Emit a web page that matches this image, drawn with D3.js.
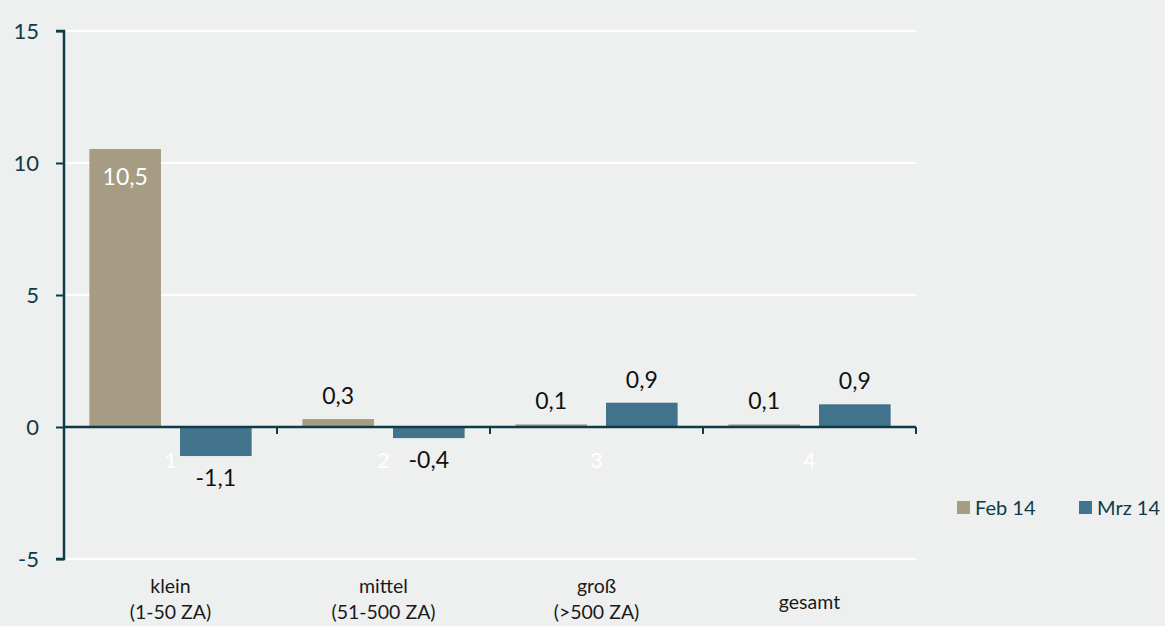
<!DOCTYPE html>
<html><head><meta charset="utf-8">
<script src="https://cdn.jsdelivr.net/npm/d3@7"></script>
<style>html,body{margin:0;padding:0;background:#eef0ef;}svg{display:block;font-family:Lato,"Open Sans",sans-serif;}</style>
</head><body>
<svg id="c" width="1165" height="626"></svg>
<script>
const categories = ["1","2","3","4"];
const categoryLabels = [["klein","(1-50 ZA)"],["mittel","(51-500 ZA)"],["groß","(>500 ZA)"],["gesamt"]];
const seriesNames = ["Feb 14","Mrz 14"];
const feb14 = [10.53, 0.3, 0.1, 0.1];
const mrz14 = [-1.1, -0.42, 0.92, 0.86];
const yTicks = [-5, 0, 5, 10, 15];
const colors = ["#a69c84","#41738c"];

(function(){
const svg = d3.select("#c");
const mL = 64, mR = 916, mT = 31, mB = 559;
const x = d3.scaleBand().domain(categories).range([mL, mR]).paddingInner(0).paddingOuter(0);
const x1 = d3.scaleBand().domain(seriesNames).range([0, x.bandwidth()]).paddingInner(0.21).paddingOuter(0.28);
const y = d3.scaleLinear().domain([-5, 15]).range([mB, mT]);
const axisCol = "#0e3b47";

// gridlines
svg.append("g").selectAll("line").data(yTicks.filter(d => d !== 0)).join("line")
  .attr("x1", mL).attr("x2", mR).attr("y1", d => y(d)).attr("y2", d => y(d))
  .attr("stroke", "#ffffff").attr("stroke-width", 2);

// bars
const series = [feb14, mrz14];
const fmt = v => d3.format(".1f")(v).replace(".", ",").replace("−", "-");
series.forEach((vals, si) => {
  svg.append("g").selectAll("rect").data(vals).join("rect")
    .attr("x", (d, i) => x(categories[i]) + x1(seriesNames[si]))
    .attr("width", x1.bandwidth())
    .attr("y", d => y(Math.max(0, d)))
    .attr("height", d => Math.abs(y(d) - y(0)))
    .attr("fill", colors[si]);
});

// y axis
const yAxis = d3.axisLeft(y).tickValues(yTicks).tickSize(8).tickPadding(17).tickFormat(d => String(d));
const ya = svg.append("g").attr("transform", `translate(${mL},0)`).call(yAxis);
ya.select(".domain").attr("stroke", axisCol).attr("stroke-width", 2.5).attr("d", `M-8,${y(15)}H0V${y(-5)}H-8`);
ya.selectAll(".tick line").attr("stroke", axisCol).attr("stroke-width", 2);
ya.selectAll(".tick text").attr("fill", axisCol).attr("font-size", 22).attr("font-family", "Lato,'Open Sans',sans-serif");

// zero axis with category ticks
const xAxis = d3.axisBottom(x).tickSize(0).tickFormat("");
const xa = svg.append("g").attr("transform", `translate(0,${y(0)})`).call(xAxis);
xa.select(".domain").attr("stroke", axisCol).attr("stroke-width", 2.5).attr("d", `M${mL},0H${mR}`);
xa.selectAll(".tick").remove();
xa.selectAll("line.sep").data(categories).join("line").attr("class", "sep")
  .attr("x1", d => x(d) + x.bandwidth()).attr("x2", d => x(d) + x.bandwidth())
  .attr("y1", 0).attr("y2", 7).attr("stroke", axisCol).attr("stroke-width", 2);

// category numbers (white)
svg.append("g").selectAll("text").data(categories).join("text")
  .attr("x", d => x(d) + x.bandwidth() / 2).attr("y", y(0) + 41)
  .attr("text-anchor", "middle").attr("fill", "#ffffff").attr("font-size", 21).text(d => d);

// category labels
categoryLabels.forEach((lines, i) => {
  const cx = x(categories[i]) + x.bandwidth() / 2;
  const t = svg.append("text").attr("text-anchor", "middle").attr("fill", "#1a1a1a").attr("font-size", 19.5).attr("x", cx);
  if (lines.length === 1) {
    t.attr("y", 609).text(lines[0]);
  } else {
    lines.forEach((l, k) => t.append("tspan").attr("x", cx).attr("y", 593 + k * 26).text(l));
  }
});

// value labels
series.forEach((vals, si) => {
  svg.append("g").selectAll("text").data(vals).join("text")
    .attr("x", (d, i) => x(categories[i]) + x1(seriesNames[si]) + x1.bandwidth() / 2)
    .attr("y", d => d > 5 ? y(d) + 36 : d >= 0 ? y(d) - 15 : y(d) + 30)
    .attr("text-anchor", "middle")
    .attr("fill", d => d > 5 ? "#ffffff" : "#111111")
    .attr("font-size", 23)
    .text(d => fmt(d));
});

// legend
const lg = svg.append("g").selectAll("g").data(seriesNames).join("g")
  .attr("transform", (d, i) => `translate(${957 + i * 122},501)`);
lg.append("rect").attr("width", 13).attr("height", 13).attr("fill", (d, i) => colors[i]);
lg.append("text").attr("x", 18).attr("y", 13.5).attr("font-size", 20).attr("fill", axisCol).text(d => d);
})();
</script>
</body></html>
